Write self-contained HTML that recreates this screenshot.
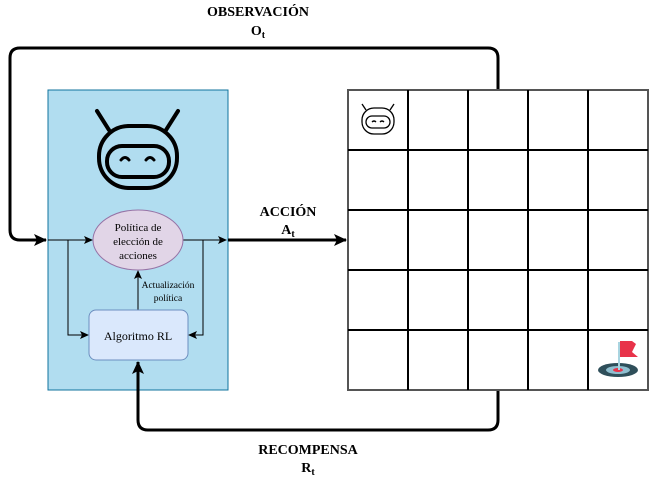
<!DOCTYPE html>
<html><head><meta charset="utf-8"><style>
body{margin:0;background:#fff;width:650px;height:481px;overflow:hidden}
text{font-family:"Liberation Serif",serif;fill:#000}
</style></head><body>
<svg width="650" height="481" viewBox="0 0 650 481">
<defs><marker id="ah" markerWidth="10" markerHeight="10" refX="8" refY="5" orient="auto" markerUnits="userSpaceOnUse"><path d="M0,1 L9,5 L0,9 L2,5 Z" fill="#000"/></marker>
<marker id="ahb" markerWidth="14" markerHeight="14" refX="12" refY="7" orient="auto" markerUnits="userSpaceOnUse"><path d="M0,1 L13,7 L0,13 L3,7 Z" fill="#000"/></marker></defs>

<rect x="48" y="90" width="180" height="300" fill="#b1ddf0" stroke="#10739e" stroke-width="1"/>

<g fill="none" stroke="#000" stroke-width="4" stroke-linecap="round">
<line x1="97" y1="111" x2="109" y2="130"/><line x1="178" y1="111" x2="166" y2="130"/>
<rect x="99" y="126" width="78" height="62" rx="30"/>
<rect x="107" y="146" width="62" height="31" rx="15"/>
<path d="M121,160 q4,-5 8,0 M146,160 q4,-5 8,0" stroke-width="3"/>
</g>

<g fill="none" stroke="#000" stroke-width="3">
<path d="M498,90 V58 Q498,48 488,48 H20 Q10,48 10,58 V230 Q10,240 20,240 H46" marker-end="url(#ahb)"/>
</g>
<path d="M498,390 V420 Q498,430 488,430 H148 Q138,430 138,420 V362" fill="none" stroke="#000" stroke-width="3" marker-end="url(#ahb)"/>
<line x1="228" y1="240" x2="346" y2="240" stroke="#000" stroke-width="3" marker-end="url(#ahb)"/>

<g fill="none" stroke="#000" stroke-width="1">
<line x1="48" y1="240" x2="92" y2="240" marker-end="url(#ah)"/>
<path d="M68,240 V335 H88" marker-end="url(#ah)"/>
<line x1="183" y1="240" x2="226" y2="240" marker-end="url(#ah)"/>
<path d="M203,240 V335 H189" marker-end="url(#ah)"/>
<line x1="138" y1="310" x2="138" y2="271" marker-end="url(#ah)"/>
</g>

<ellipse cx="138" cy="240" rx="45" ry="30" fill="#e1d5e7" stroke="#9673a6"/>
<text x="138" y="231" font-size="11" text-anchor="middle">Política de</text>
<text x="138" y="245" font-size="11" text-anchor="middle">elección de</text>
<text x="138" y="259" font-size="11" text-anchor="middle">acciones</text>
<text x="168" y="288" font-size="9.5" text-anchor="middle">Actualización</text>
<text x="168" y="301" font-size="9.5" text-anchor="middle">política</text>

<rect x="89" y="310" width="99" height="50" rx="7" fill="#dae8fc" stroke="#6c8ebf"/>
<text x="138" y="340" font-size="12" text-anchor="middle">Algoritmo RL</text>

<g stroke="#000" stroke-width="2" fill="#fff">
<rect x="348" y="90" width="300" height="300" stroke="#555"/>
<line x1="408" y1="90" x2="408" y2="390"/><line x1="468" y1="90" x2="468" y2="390"/>
<line x1="528" y1="90" x2="528" y2="390"/><line x1="588" y1="90" x2="588" y2="390"/>
<line x1="348" y1="150" x2="648" y2="150"/><line x1="348" y1="210" x2="648" y2="210"/>
<line x1="348" y1="270" x2="648" y2="270"/><line x1="348" y1="330" x2="648" y2="330"/>
</g>
<g fill="none" stroke="#000" stroke-width="1.3">
<line x1="362" y1="104" x2="366" y2="110"/><line x1="394" y1="104" x2="390" y2="110"/>
<rect x="362" y="108" width="32" height="26" rx="12"/><rect x="366" y="116" width="24" height="12" rx="6"/>
<path d="M372,122 q2,-2 4,0 M380,122 q2,-2 4,0"/>
</g>
<g>
<ellipse cx="618" cy="370" rx="20" ry="7" fill="#2f4f5a"/>
<ellipse cx="618" cy="370" rx="12" ry="4" fill="#8fbfd0"/>
<ellipse cx="618" cy="370" rx="5" ry="2" fill="#e8334a"/>
<line x1="619" y1="342" x2="619" y2="370" stroke="#a9d4e0" stroke-width="2"/>
<path d="M620,341 H632 L636,344 L632,352 L638,357 H620 Z" fill="#e8334a"/>
</g>

<text x="258" y="16" font-size="14" font-weight="bold" text-anchor="middle">OBSERVACIÓN</text>
<text x="258" y="35" font-size="14" font-weight="bold" text-anchor="middle">O<tspan font-size="10" dy="3">t</tspan></text>
<text x="288" y="216" font-size="14" font-weight="bold" text-anchor="middle">ACCIÓN</text>
<text x="288" y="234" font-size="14" font-weight="bold" text-anchor="middle">A<tspan font-size="10" dy="3">t</tspan></text>
<text x="308" y="454" font-size="14" font-weight="bold" text-anchor="middle">RECOMPENSA</text>
<text x="308" y="472" font-size="14" font-weight="bold" text-anchor="middle">R<tspan font-size="10" dy="3">t</tspan></text>
</svg>
</body></html>
